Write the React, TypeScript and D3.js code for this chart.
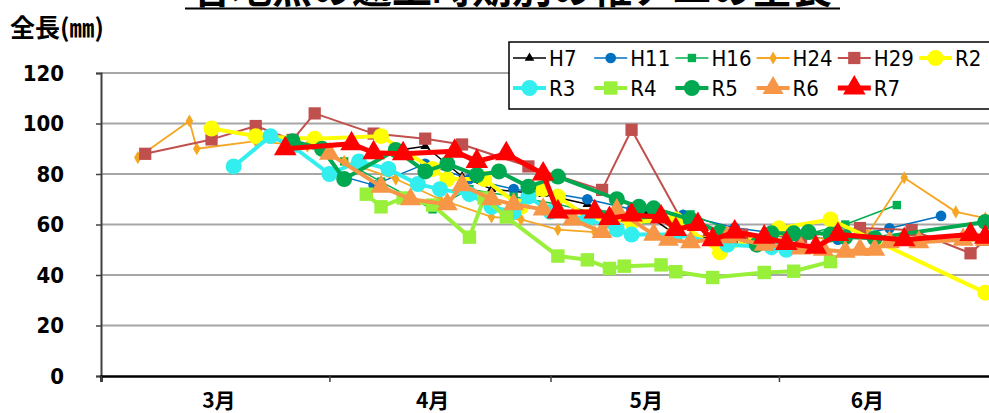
import { useEffect, useRef } from "react"
import * as d3 from "d3"

// 遡上時期別の稚アユの全長 (mm)
const yTicks = [0, 20, 40, 60, 80, 100, 120]
const monthLabels = ["3月", "4月", "5月", "6月"]
const monthLabelDays = ["3/17", "4/15", "5/14", "6/13"]
const monthStarts = ["3/1", "4/1", "5/1", "6/1"]

const h7Dates = ["4/7", "4/14", "4/19", "4/23", "4/30", "5/6", "5/12", "5/14", "5/18", "5/22", "5/26"]
const h7Values = [88, 91, 79, 74, 72, 68, 60, 64, 56, 55, 53]

const h11Dates = ["4/1", "4/7", "4/14", "4/20", "4/26", "5/2", "5/6", "5/12", "5/19", "5/26", "6/2", "6/9", "6/16", "6/23"]
const h11Values = [80.5, 75.6, 84, 78, 74, 72, 70, 66, 63.8, 58.7, 56, 54, 58.5, 63.4]

const h16Dates = ["3/27", "4/3", "4/8", "4/15", "4/20", "4/26", "5/2", "5/8", "5/14", "5/20", "5/27", "6/3", "6/10", "6/17"]
const h16Values = [93, 85, 77, 66, 74, 71, 68, 64, 62, 64, 56, 55, 60, 67.7]

const h24Dates = ["3/6", "3/13", "3/14", "3/22", "3/29", "4/3", "4/10", "4/16", "4/23", "4/27", "5/2", "5/7", "5/15", "5/25", "6/4", "6/13", "6/18", "6/25", "6/29"]
const h24Values = [86.5, 101, 90, 93, 91, 85, 78, 70, 63, 62, 58, 57, 56, 55, 54, 56, 78.5, 65, 62.5]

const h29Dates = ["3/7", "3/16", "3/22", "3/27", "3/30", "4/7", "4/14", "4/19", "4/28", "5/8", "5/12", "5/19", "5/27", "6/4", "6/12", "6/19", "6/27", "6/29"]
const h29Values = [88, 93.7, 99, 93.5, 104, 96, 94, 91.7, 83, 73.7, 97.5, 60.6, 56, 55, 58.6, 57.8, 48.6, 54]

const r2Dates = ["3/16", "3/22", "3/30", "4/8", "4/15", "4/17", "4/22", "4/27", "4/30", "5/2", "5/6", "5/12", "5/18", "5/24", "6/1", "6/8", "6/29"]
const r2Values = [98, 95, 94, 95, 82, 78, 78, 67, 74, 71, 63, 61, 62, 49, 58.5, 62, 33]

const r3Dates = ["3/19", "3/24", "3/27", "4/1", "4/5", "4/9", "4/13", "4/16", "4/20", "4/23", "4/26", "4/28", "5/1", "5/6", "5/10", "5/12", "5/18", "5/25", "5/31", "6/2"]
const r3Values = [83, 95, 91, 80, 85, 82, 76, 74, 72, 67, 65, 71, 65, 62, 58, 56, 56, 52, 51, 50]

const r4Dates = ["4/6", "4/8", "4/11", "4/15", "4/20", "4/22", "4/25", "5/2", "5/6", "5/9", "5/11", "5/16", "5/18", "5/23", "5/30", "6/3", "6/8"]
const r4Values = [72, 67, 70.5, 67.7, 55, 70.5, 63, 47.5, 46, 42.6, 43.5, 44, 41.3, 39, 41, 41.5, 45.3]

const r5Dates = ["3/27", "3/31", "4/3", "4/10", "4/14", "4/17", "4/21", "4/24", "4/28", "5/2", "5/10", "5/13", "5/15", "5/20", "5/24", "5/29", "5/31", "6/3", "6/5", "6/8", "6/10", "6/14", "6/29"]
const r5Values = [93, 90, 78, 89.5, 81, 84, 79.6, 81, 75, 79, 70, 67, 66.4, 62, 57, 52, 56.5, 56.5, 57, 56, 55, 54.6, 61]

const r6Dates = ["4/1", "4/8", "4/12", "4/17", "4/19", "4/23", "4/26", "4/30", "5/4", "5/8", "5/10", "5/15", "5/17", "5/20", "5/25", "5/30", "6/4", "6/7", "6/10", "6/12", "6/14", "6/16", "6/20", "6/26", "6/29"]
const r6Values = [88, 75, 70, 68, 75.6, 70, 68, 66, 62, 57, 65.7, 56, 54, 53, 55, 52, 50.5, 50, 49.2, 50, 50, 53, 53, 54, 54]

const r7Dates = ["3/26", "4/4", "4/7", "4/11", "4/18", "4/21", "4/25", "4/30", "5/2", "5/7", "5/9", "5/12", "5/16", "5/18", "5/21", "5/23", "5/26", "5/30", "6/2", "6/6", "6/9", "6/18", "6/27", "6/29"]
const r7Values = [90, 92, 88.4, 88, 89, 85, 88, 80, 65, 65, 62.4, 63.8, 63, 58, 60, 54, 57, 55, 52.5, 51, 56, 54, 56, 55]

type Series = {
  name: string
  dates: string[]
  values: number[]
  color: string
  width: number
  symbol: d3.SymbolType
  size: number
}

const series: Series[] = [
  { name: "H7", dates: h7Dates, values: h7Values, color: "#000000", width: 1.5, symbol: d3.symbolTriangle, size: 40 },
  { name: "H11", dates: h11Dates, values: h11Values, color: "#0070C0", width: 1.5, symbol: d3.symbolCircle, size: 90 },
  { name: "H16", dates: h16Dates, values: h16Values, color: "#00B050", width: 1.5, symbol: d3.symbolSquare, size: 70 },
  { name: "H24", dates: h24Dates, values: h24Values, color: "#F5A623", width: 1.8, symbol: d3.symbolDiamond, size: 50 },
  { name: "H29", dates: h29Dates, values: h29Values, color: "#C0504D", width: 2, symbol: d3.symbolSquare, size: 150 },
  { name: "R2", dates: r2Dates, values: r2Values, color: "#FFFF00", width: 4, symbol: d3.symbolCircle, size: 200 },
  { name: "R3", dates: r3Dates, values: r3Values, color: "#33EEEE", width: 4, symbol: d3.symbolCircle, size: 200 },
  { name: "R4", dates: r4Dates, values: r4Values, color: "#99F03A", width: 4, symbol: d3.symbolSquare, size: 180 },
  { name: "R5", dates: r5Dates, values: r5Values, color: "#00A850", width: 4, symbol: d3.symbolCircle, size: 200 },
  { name: "R6", dates: r6Dates, values: r6Values, color: "#F79646", width: 4, symbol: d3.symbolTriangle, size: 190 },
  { name: "R7", dates: r7Dates, values: r7Values, color: "#FF0000", width: 5, symbol: d3.symbolTriangle, size: 220 },
]

const parseDay = (s: string) => {
  const [m, d] = s.split("/").map(Number)
  return new Date(2000, m - 1, d)
}

const numFont = "'Liberation Sans Narrow', 'DejaVu Sans Condensed', sans-serif"
const jpFont = "'Noto Sans CJK JP', sans-serif"

export default function App() {
  const svgRef = useRef<SVGSVGElement | null>(null)

  useEffect(() => {
    if (!svgRef.current) return

    const width = 989
    const height = 413
    const plot = { left: 101, right: 1000, top: 73, bottom: 376 }

    const svg = d3.select(svgRef.current).attr("width", width).attr("height", height)
    svg.selectAll("*").remove()

    const x = d3
      .scaleTime()
      .domain([parseDay("3/1"), parseDay("7/1")])
      .range([plot.left, plot.right])

    const y = d3.scaleLinear().domain([0, 120]).range([plot.bottom, plot.top])

    // title (cut off at the top of the picture, as in the original)
    svg
      .append("text")
      .attr("x", 512)
      .attr("y", 3)
      .attr("text-anchor", "middle")
      .attr("font-family", jpFont)
      .attr("font-weight", 700)
      .attr("font-size", 40)
      .text("各地点の遡上時期別の稚アユの全長")
    svg
      .append("line")
      .attr("x1", 185)
      .attr("x2", 840)
      .attr("y1", 8.5)
      .attr("y2", 8.5)
      .attr("stroke", "#000")
      .attr("stroke-width", 2)

    svg
      .append("text")
      .attr("x", 10)
      .attr("y", 37)
      .attr("font-family", jpFont)
      .attr("font-weight", 700)
      .attr("font-size", 25)
      .text("全長(㎜)")

    // gridlines
    svg
      .append("g")
      .selectAll("line")
      .data(yTicks.filter(t => t > 0))
      .join("line")
      .attr("x1", plot.left)
      .attr("x2", plot.right)
      .attr("y1", d => y(d))
      .attr("y2", d => y(d))
      .attr("stroke", "#A6A6A6")
      .attr("stroke-width", 2)

    // Y axis
    const yAxis = svg
      .append("g")
      .attr("transform", `translate(${plot.left},0)`)
      .call(d3.axisLeft(y).tickValues(yTicks).tickSize(5).tickPadding(32))
    yAxis.select(".domain").attr("stroke", "#404040").attr("stroke-width", 2)
    yAxis.selectAll(".tick line").attr("stroke", "#404040").attr("stroke-width", 1.5)
    yAxis
      .selectAll(".tick text")
      .attr("font-family", numFont)
      .attr("font-weight", 700)
      .attr("font-size", 22)
      .attr("fill", "#000")

    // X axis
    const xAxis = svg
      .append("g")
      .attr("transform", `translate(0,${plot.bottom})`)
      .call(d3.axisBottom(x).tickValues(monthStarts.map(parseDay)).tickSize(6).tickFormat(() => ""))
    xAxis.select(".domain").attr("stroke", "#000").attr("stroke-width", 2.5)
    xAxis.selectAll(".tick line").attr("stroke", "#404040").attr("stroke-width", 1.5)

    svg
      .append("g")
      .selectAll("text")
      .data(monthLabels)
      .join("text")
      .attr("x", (_, i) => x(parseDay(monthLabelDays[i])))
      .attr("y", 408)
      .attr("text-anchor", "middle")
      .attr("font-family", jpFont)
      .attr("font-weight", 700)
      .attr("font-size", 21)
      .text(d => d)

    // series
    const line = d3
      .line<[Date, number]>()
      .x(d => x(d[0]))
      .y(d => y(d[1]))

    series.forEach(s => {
      const pts: [Date, number][] = s.dates.map((d, i) => [parseDay(d), s.values[i]])
      const g = svg.append("g")
      g.append("path")
        .datum(pts)
        .attr("fill", "none")
        .attr("stroke", s.color)
        .attr("stroke-width", s.width)
        .attr("stroke-linejoin", "round")
        .attr("d", line)
      g.selectAll("path.pt")
        .data(pts)
        .join("path")
        .attr("class", "pt")
        .attr("transform", d => `translate(${x(d[0])},${y(d[1])})`)
        .attr("d", d3.symbol().type(s.symbol).size(s.size)())
        .attr("fill", s.color)
    })

    // legend
    const legend = svg.append("g")
    legend
      .append("rect")
      .attr("x", 509)
      .attr("y", 42)
      .attr("width", 500)
      .attr("height", 67)
      .attr("fill", "#fff")
      .attr("stroke", "#000")
      .attr("stroke-width", 1.5)

    series.forEach((s, i) => {
      const row = i < 6 ? 0 : 1
      const col = i < 6 ? i : i - 6
      const lx = 513 + col * 81.2
      const ly = row === 0 ? 58 : 88
      const item = legend.append("g").attr("transform", `translate(${lx},${ly})`)
      item
        .append("line")
        .attr("x1", 0)
        .attr("x2", 33)
        .attr("stroke", s.color)
        .attr("stroke-width", s.width)
      item
        .append("path")
        .attr("transform", "translate(16.5,0)")
        .attr("d", d3.symbol().type(s.symbol).size(s.size)())
        .attr("fill", s.color)
      item
        .append("text")
        .attr("x", 36)
        .attr("y", 7.5)
        .attr("font-family", numFont)
        .attr("font-size", 22)
        .text(s.name)
    })
  }, [])

  return (
    <div style={{ position: "absolute", left: 0, top: 0 }}>
      <svg ref={svgRef} style={{ display: "block" }} />
    </div>
  )
}
